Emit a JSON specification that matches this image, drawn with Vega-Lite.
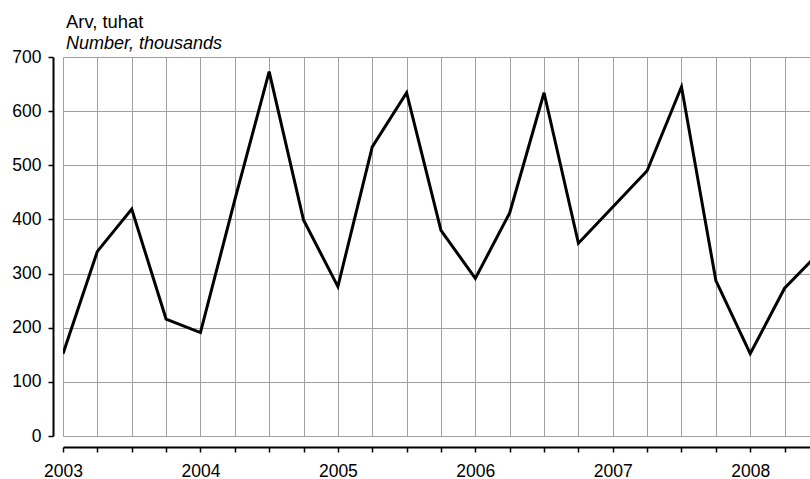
{
  "$schema": "https://vega.github.io/schema/vega-lite/v6.json",
  "width": 747,
  "height": 379,
  "autosize": {"type": "none"},
  "padding": {"left": 63, "top": 57, "right": 0, "bottom": 43},
  "background": "white",
  "title": {
    "text": "Arv, tuhat",
    "subtitle": "Number, thousands",
    "anchor": "start",
    "frame": "group",
    "dx": 3,
    "offset": -4.5,
    "font": "Liberation Sans",
    "fontSize": 18.4,
    "fontWeight": "normal",
    "color": "black",
    "subtitleFont": "Liberation Sans",
    "subtitleFontSize": 18,
    "subtitleFontStyle": "italic",
    "subtitleColor": "black",
    "subtitlePadding": 3.5
  },
  "data": {
    "values": [
      {"t": 2003.0, "v": 152},
      {"t": 2003.25, "v": 341},
      {"t": 2003.5, "v": 419},
      {"t": 2003.75, "v": 216},
      {"t": 2004.0, "v": 191},
      {"t": 2004.25, "v": 436},
      {"t": 2004.5, "v": 673},
      {"t": 2004.75, "v": 399},
      {"t": 2005.0, "v": 276},
      {"t": 2005.25, "v": 534},
      {"t": 2005.5, "v": 634},
      {"t": 2005.75, "v": 380},
      {"t": 2006.0, "v": 291},
      {"t": 2006.25, "v": 412},
      {"t": 2006.5, "v": 634},
      {"t": 2006.75, "v": 356},
      {"t": 2007.0, "v": 423},
      {"t": 2007.25, "v": 490},
      {"t": 2007.5, "v": 645},
      {"t": 2007.75, "v": 287},
      {"t": 2008.0, "v": 152},
      {"t": 2008.25, "v": 273},
      {"t": 2008.5, "v": 338}
    ]
  },
  "mark": {"type": "line", "color": "black", "strokeWidth": 3, "strokeJoin": "miter", "clip": true},
  "encoding": {
    "x": {
      "field": "t",
      "type": "quantitative",
      "scale": {"domain": [2003, 2008.435], "nice": false, "zero": false},
      "axis": {
        "title": null,
        "values": [2003, 2003.25, 2003.5, 2003.75, 2004, 2004.25, 2004.5, 2004.75, 2005, 2005.25, 2005.5, 2005.75, 2006, 2006.25, 2006.5, 2006.75, 2007, 2007.25, 2007.5, 2007.75, 2008, 2008.25],
        "labelExpr": "datum.value % 1 === 0 ? format(datum.value, 'd') : ''",
        "labelOverlap": false,
        "labelFlush": false,
        "labelBound": false,
        "offset": 11,
        "domainColor": "black",
        "domainWidth": 2,
        "tickColor": "black",
        "tickWidth": 1.5,
        "tickSize": 5,
        "labelPadding": 10,
        "labelFont": "Liberation Sans",
        "labelFontSize": 17.5,
        "labelColor": "black",
        "grid": true,
        "gridColor": "#a0a0a0",
        "gridWidth": 1
      }
    },
    "y": {
      "field": "v",
      "type": "quantitative",
      "scale": {"domain": [0, 700], "nice": false},
      "axis": {
        "title": null,
        "values": [0, 100, 200, 300, 400, 500, 600, 700],
        "offset": 10,
        "domainColor": "black",
        "domainWidth": 2,
        "tickColor": "black",
        "tickWidth": 1.5,
        "tickSize": 5,
        "labelPadding": 7,
        "labelFont": "Liberation Sans",
        "labelFontSize": 17.5,
        "labelColor": "black",
        "grid": true,
        "gridColor": "#a0a0a0",
        "gridWidth": 1
      }
    }
  },
  "config": {"view": {"stroke": null}}
}
